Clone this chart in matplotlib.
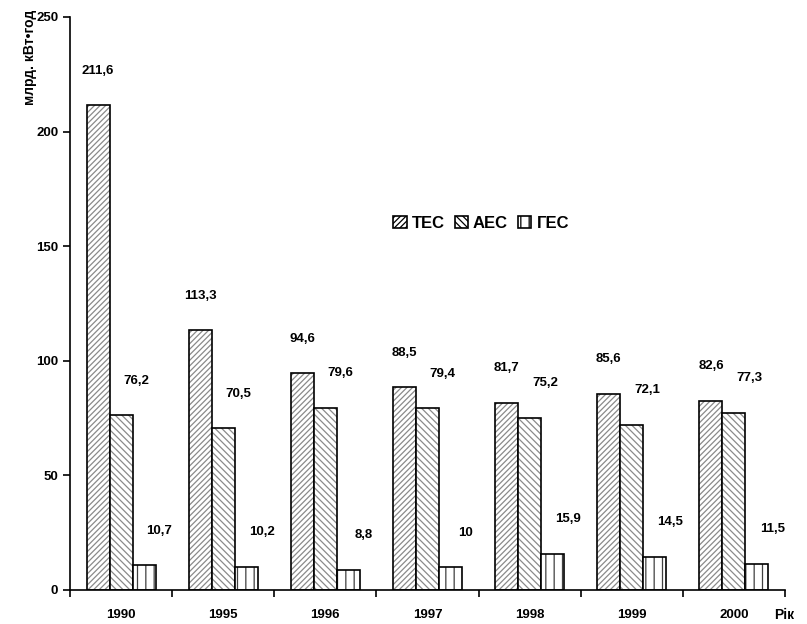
import matplotlib
matplotlib.use("Agg")
import matplotlib.pyplot as plt
import numpy as np

plt.rcParams['font.family'] = ['Liberation Sans', 'DejaVu Sans']
plt.rcParams['hatch.linewidth'] = 0.9

years = ['1990', '1995', '1996', '1997', '1998', '1999', '2000']
tes = [211.6, 113.3, 94.6, 88.5, 81.7, 85.6, 82.6]
aes = [76.2, 70.5, 79.6, 79.4, 75.2, 72.1, 77.3]
ges = [10.7, 10.2, 8.8, 10, 15.9, 14.5, 11.5]
tes_lbl = ['211,6', '113,3', '94,6', '88,5', '81,7', '85,6', '82,6']
aes_lbl = ['76,2', '70,5', '79,6', '79,4', '75,2', '72,1', '77,3']
ges_lbl = ['10,7', '10,2', '8,8', '10', '15,9', '14,5', '11,5']

fig = plt.figure(figsize=(8.07, 6.24), dpi=100)
ax = fig.add_axes([70/807, 34/624, 715/807, 573/624])

x = np.arange(len(years))
w = 0.225
series = [(tes, tes_lbl, -w, '//////', 'ТЕС', 0.0, '#8a8a8a'),
          (aes, aes_lbl, 0.0, '\\\\\\\\\\', 'АЕС', 0.15, '#8a8a8a'),
          (ges, ges_lbl, w, '||', 'ГЕС', 0.15, '#404040')]
handles = []
for vals, lbls, off, hatch, name, loff, hc in series:
    ax.bar(x + off, vals, w, facecolor='white', edgecolor=hc,
           linewidth=0, hatch=hatch)
    ax.bar(x + off, vals, w, facecolor='none', edgecolor='black',
           linewidth=1.2)
    h = plt.Rectangle((0, 0), 1, 1, facecolor='white', edgecolor='black',
                      hatch=hatch, linewidth=1.2, label=name)
    handles.append(h)
    for xi, v, l in zip(x, vals, lbls):
        ax.text(xi + off + loff, v + 15, l, ha='center', va='center',
                fontsize=9.5, fontweight='bold')

ax.set_xlim(-0.5, len(years) - 0.5)
ax.set_ylim(0, 250)
ax.set_yticks([0, 50, 100, 150, 200, 250])
ax.set_xticks(x)
ax.set_xticklabels(years, fontsize=9.5, fontweight='bold')
ax.set_xticks(np.arange(-0.5, len(years)), minor=True)
ax.tick_params(axis='x', which='major', length=0, pad=14)
ax.tick_params(axis='x', which='minor', length=5, width=1.2, direction='out')
ax.tick_params(axis='y', length=5, width=1.2, direction='out', labelsize=9.5)
for t in ax.get_yticklabels():
    t.set_fontweight('bold')
for s in ['top', 'right']:
    ax.spines[s].set_visible(False)
for s in ['left', 'bottom']:
    ax.spines[s].set_linewidth(1.2)

leg = ax.legend(handles=handles, loc='center', bbox_to_anchor=(0.575, 0.64),
                ncol=3, frameon=False, handlelength=0.8, handleheight=0.8,
                handletextpad=0.3, columnspacing=0.6,
                prop={'weight': 'bold', 'size': 12})

fig.text(30/807, 1 - 10/624, 'млрд. кВт•год', rotation=90, ha='center', va='top',
         fontsize=10, fontweight='bold')
fig.text(784/807, 1 - 622/624, 'Рік', ha='center', va='bottom',
         fontsize=10, fontweight='bold')

fig.savefig('out.png', dpi=100)
